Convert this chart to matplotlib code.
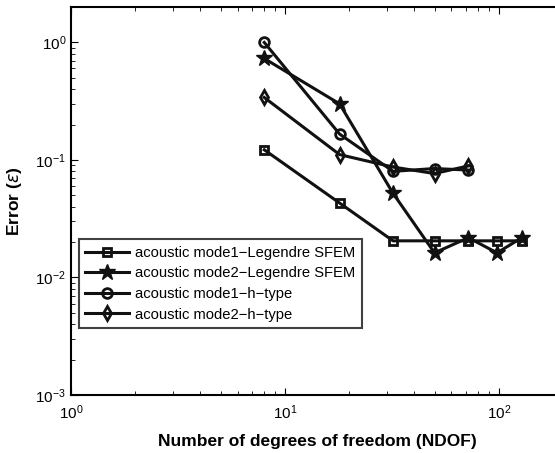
import matplotlib
matplotlib.use("Agg")
import matplotlib.pyplot as plt

ndof = [8, 18, 32, 50, 72, 98, 128]
ndof_h = [8, 18, 32, 50, 72]
mode1_sfem = [0.122, 0.043, 0.0205, 0.0205, 0.0205, 0.0205, 0.0205]
mode2_sfem = [0.73, 0.30, 0.052, 0.0162, 0.0218, 0.0162, 0.0218]
mode1_h = [1.0, 0.166, 0.080, 0.0845, 0.082]
mode2_h = [0.34, 0.111, 0.087, 0.0766, 0.089]
labels = ["acoustic mode1\u2212Legendre SFEM", "acoustic mode2\u2212Legendre SFEM",
          "acoustic mode1\u2212h\u2212type", "acoustic mode2\u2212h\u2212type"]

plt.rcParams['font.family'] = ['Liberation Sans', 'DejaVu Sans']
plt.rcParams['mathtext.fontset'] = 'custom'
plt.rcParams['mathtext.rm'] = 'Liberation Sans'

fig = plt.figure(figsize=(5.55, 4.53), dpi=100)
ax = fig.add_axes([0.128, 0.128, 0.887, 0.8565])

c = '#111111'
lw = 2.2
ax.plot(ndof, mode1_sfem, '-s', color=c, lw=lw, ms=6, mfc='none', mew=2, label=labels[0])
ax.plot(ndof, mode2_sfem, '-*', color=c, lw=lw, ms=12, mfc=c, mew=1, label=labels[1])
ax.plot(ndof_h, mode1_h, '-o', color=c, lw=lw, ms=7, mfc='none', mew=2, label=labels[2])
ax.plot(ndof_h, mode2_h, '-d', color=c, lw=lw, ms=7, mfc='none', mew=2, label=labels[3])

ax.set_xscale('log')
ax.set_yscale('log')
ax.set_xlim(1, 200)
ax.set_ylim(1e-3, 2.0)

ax.tick_params(which='both', direction='in', top=True, right=True, labelsize=11)
ax.tick_params(which='major', length=5)
ax.tick_params(which='minor', length=3)
ax.tick_params(axis='x', pad=6)
for s in ax.spines.values():
    s.set_linewidth(1.5)

ax.set_xlabel('Number of degrees of freedom (NDOF)', fontsize=12.5, fontweight='bold', labelpad=9)
ax.set_ylabel(r'Error ($\varepsilon$)', fontsize=12.5, fontweight='bold', labelpad=8)

leg = ax.legend(loc='upper left', bbox_to_anchor=(0.0155, 0.402), borderaxespad=0,
                fontsize=10.6, handlelength=3.0, frameon=True, fancybox=False,
                edgecolor=c, borderpad=0.45, labelspacing=0.45, handletextpad=0.4)
leg.get_frame().set_linewidth(1.5)

fig.savefig('out.png', dpi=100)
